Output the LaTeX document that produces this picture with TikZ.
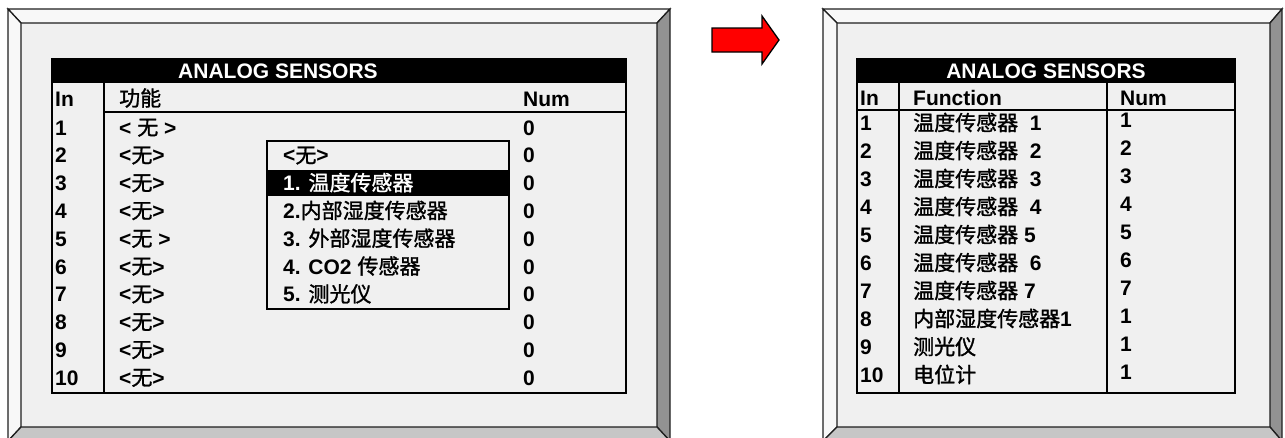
\documentclass[tikz,border=0pt]{standalone}
\usepackage{fontspec}
\setmainfont{Liberation Sans}
\newfontfamily\cjk{Noto Sans CJK SC}[BoldFont={Noto Sans CJK SC},BoldFeatures={FakeBold=1.3}]
\newcommand{\zh}[1]{{\cjk #1}}
\definecolor{face}{HTML}{F0F0F0}
\definecolor{bevlight}{HTML}{F8F8F8}
\definecolor{bevdark}{HTML}{929292}
\definecolor{bevmid}{HTML}{C6C6C6}
\definecolor{edge}{HTML}{1E1E1E}
\begin{document}
\begin{tikzpicture}[x=1pt,y=-1pt,
        frame/.style={draw=edge,line width=1.3pt},
        txt/.style={anchor=base west,inner sep=0pt,font=\fontsize{21}{21}\selectfont\bfseries},
        hdr/.style={txt,text=white},
        grid/.style={line width=2pt}]
    \useasboundingbox (0,0) rectangle (1285,437);
    % two screens with bevelled frames
    \foreach \ox/\ix/\iX/\oX in {8/21/657/670, 823/837/1270/1282}
        {
            \fill[face] (\ix,23) rectangle (\iX,427);
            \filldraw[fill=bevlight,frame] (\ox,9) -- (\oX,9) -- (\iX,23) -- (\ix,23) -- cycle;
            \filldraw[fill=bevlight,frame] (\ox,9) -- (\ix,23) -- (\ix,427) -- (\ox,441) -- cycle;
            \filldraw[fill=bevdark,frame] (\oX,9) -- (\oX,441) -- (\iX,427) -- (\iX,23) -- cycle;
            \filldraw[fill=bevmid,frame] (\ox,441) -- (\ix,427) -- (\iX,427) -- (\oX,441) -- cycle;
        }
    % arrow
    \filldraw[fill=red,draw=black,line width=1.3pt,line join=miter]
        (712,28) -- (762,28) -- (762,16) -- (779,40) -- (762,64) -- (762,52) -- (712,52) -- cycle;

    % left table
    \fill (52,58) rectangle (627,83);
    \draw[grid] (52,58) -- (52,393) -- (626,393) -- (626,58);
    \draw[grid] (104,83) -- (104,393);
    \draw[grid] (104,112) -- (626,112);
    \node[hdr] (ltitle) at (178,78) {ANALOG SENSORS};
    \node[txt] (lin) at (55,106) {In};
    \node[txt] (lfn) at (119,106) {\zh{功能}};
    \node[txt] (lnum) at (523,106) {Num};
    \foreach \i/\f in {1/{< \zh{无} >},2/{<\zh{无}>},3/{<\zh{无}>},4/{<\zh{无}>},5/{<\zh{无} >},
                       6/{<\zh{无}>},7/{<\zh{无}>},8/{<\zh{无}>},9/{<\zh{无}>},10/{<\zh{无}>}}
        {
            \node[txt] (lin\i) at (55,{135+27.8*(\i-1)}) {\i};
            \node[txt] (lfn\i) at (119,{135+27.8*(\i-1)}) {\f};
            \node[txt] (lnum\i) at (523,{135+27.8*(\i-1)}) {0};
        }

    % drop-down list
    \filldraw[fill=face,grid] (267,141) rectangle (509,309);
    \fill (268,170) rectangle (508,196);
    \foreach \k/\f in {0/{<\zh{无}>},2/{2.\zh{内部湿度传感器}},3/{3. \zh{外部湿度传感器}},
                       4/{4. CO2 \zh{传感器}},5/{5. \zh{测光仪}}}
        {
            \node[txt] (opt\k) at (283,{162.8+27.8*\k}) {\f};
        }
    \node[hdr] (opt1) at (283,190.6) {1. \zh{温度传感器}};

    % right table
    \fill (857,58) rectangle (1235,83);
    \draw[grid] (857,58) -- (857,393) -- (1235,393) -- (1235,58);
    \draw[grid] (857,110) -- (1235,110);
    \draw[grid] (899,83) -- (899,393);
    \draw[grid] (1107,83) -- (1107,393);
    \node[hdr,anchor=base] (rtitle) at (1046,78) {ANALOG SENSORS};
    \node[txt] (rin) at (860,105) {In};
    \node[txt] (rfn) at (913,105) {Function};
    \node[txt] (rnum) at (1120,105) {Num};
    \foreach \i/\f/\n in {1/{\zh{温度传感器}\ \ 1}/1,2/{\zh{温度传感器}\ \ 2}/2,3/{\zh{温度传感器}\ \ 3}/3,
                          4/{\zh{温度传感器}\ \ 4}/4,5/{\zh{温度传感器} 5}/5,6/{\zh{温度传感器}\ \ 6}/6,
                          7/{\zh{温度传感器} 7}/7,8/{\zh{内部湿度传感器}1}/1,9/{\zh{测光仪}}/1,10/{\zh{电位计}}/1}
        {
            \node[txt] (rin\i) at (860,{130.5+28*(\i-1)}) {\i};
            \node[txt] (rfn\i) at (913,{130.5+28*(\i-1)}) {\f};
            \node[txt] (rnum\i) at (1120,{127.5+28*(\i-1)}) {\n};
        }
\end{tikzpicture}
\end{document}
